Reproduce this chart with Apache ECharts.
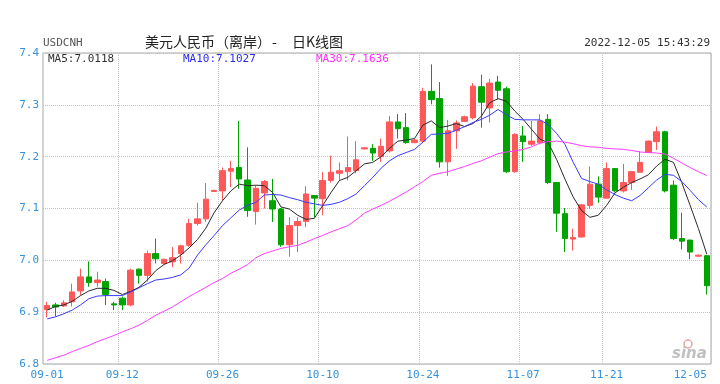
<!DOCTYPE html>
<html><head><meta charset="utf-8">
<script src="https://cdn.jsdelivr.net/npm/echarts@6/dist/echarts.min.js"></script>
<style>html,body{margin:0;padding:0;background:#fff}#c{width:720px;height:384px}</style>
</head><body><div id="c"></div>
<script>
const dates = ['09-01','09-02','09-03','09-05','09-06','09-07','09-08','09-09','09-10',
'09-12','09-13','09-14','09-15','09-16','09-17','09-19','09-20','09-21','09-22','09-23','09-24',
'09-26','09-27','09-28','09-29','09-30','10-01','10-03','10-04','10-05','10-06','10-07','10-08',
'10-10','10-11','10-12','10-13','10-14','10-15','10-17','10-18','10-19','10-20','10-21','10-22',
'10-24','10-25','10-26','10-27','10-28','10-29','10-31','11-01','11-02','11-03','11-04','11-05',
'11-07','11-08','11-09','11-10','11-11','11-14','11-15','11-16','11-17','11-18',
'11-21','11-22','11-23','11-24','11-25','11-26','11-28','11-29','11-30','12-01','12-02','12-03','12-05'];
const tickDates = ['09-01','09-12','09-26','10-10','10-24','11-07','11-21','12-05'];
const yTicks = [6.8, 7.4, 0.1]; // min, max, step
const open  = [6.905,6.914,6.912,6.920,6.941,6.968,6.957,6.959,6.916,6.927,6.914,6.983,6.971,7.013,6.994,6.997,7.013,7.029,7.071,7.080,
7.133,7.134,7.172,7.179,7.155,7.094,7.130,7.115,7.099,7.030,7.067,7.075,7.125,7.119,7.154,7.168,7.171,7.173,7.215,7.216,
7.200,7.211,7.267,7.256,7.227,7.230,7.326,7.312,7.190,7.250,7.268,7.275,7.335,7.294,7.344,7.331,7.171,7.240,7.224,7.227,
7.272,7.150,7.090,7.041,7.045,7.106,7.147,7.120,7.177,7.134,7.150,7.170,7.208,7.229,7.248,7.145,7.042,7.039,7.008,7.009];
const close = [6.913,6.910,6.918,6.939,6.968,6.957,6.962,6.934,6.914,6.914,6.981,6.971,7.013,7.003,7.002,7.005,7.028,7.071,7.080,7.118,
7.135,7.173,7.177,7.157,7.096,7.139,7.152,7.099,7.030,7.067,7.075,7.128,7.120,7.154,7.170,7.173,7.179,7.194,7.217,7.207,
7.220,7.267,7.254,7.227,7.232,7.326,7.310,7.190,7.250,7.265,7.277,7.336,7.305,7.342,7.328,7.171,7.243,7.229,7.230,7.269,
7.150,7.091,7.042,7.044,7.107,7.147,7.122,7.177,7.134,7.150,7.171,7.189,7.230,7.248,7.134,7.042,7.037,7.016,7.010,6.951];
const low   = [6.890,6.892,6.910,6.911,6.933,6.949,6.949,6.914,6.904,6.904,6.911,6.955,6.959,6.994,6.992,6.987,6.994,7.026,7.067,7.074,
7.132,7.115,7.141,7.138,7.084,7.069,7.100,7.074,7.026,7.007,7.016,7.064,7.083,7.087,7.150,7.154,7.154,7.168,7.214,7.192,
7.190,7.208,7.235,7.225,7.226,7.226,7.301,7.179,7.163,7.215,7.267,7.272,7.256,7.266,7.310,7.168,7.169,7.190,7.221,7.224,
7.147,7.055,7.016,7.019,7.044,7.099,7.111,7.119,7.131,7.131,7.136,7.169,7.207,7.213,7.131,7.039,7.021,7.002,7.007,6.934];
const high  = [6.920,6.918,6.923,6.955,6.984,6.998,6.978,6.965,6.920,6.930,6.984,6.984,7.019,7.042,7.003,7.026,7.030,7.080,7.111,7.149,
7.136,7.179,7.192,7.269,7.218,7.144,7.155,7.157,7.101,7.083,7.083,7.143,7.126,7.170,7.202,7.189,7.239,7.230,7.218,7.224,
7.235,7.278,7.282,7.284,7.234,7.333,7.378,7.344,7.271,7.270,7.279,7.342,7.358,7.350,7.356,7.335,7.245,7.259,7.269,7.282,
7.282,7.151,7.101,7.061,7.108,7.181,7.162,7.189,7.178,7.186,7.172,7.211,7.231,7.258,7.250,7.154,7.092,7.040,7.011,7.010];
const ma5  = [6.904,6.911,6.914,6.921,6.932,6.941,6.946,6.946,6.942,6.934,6.940,6.948,6.962,6.980,6.992,6.999,7.010,7.024,7.040,7.062,
7.092,7.115,7.134,7.147,7.144,7.145,7.144,7.131,7.103,7.099,7.087,7.079,7.081,7.106,7.131,7.154,7.160,7.173,7.186,7.189,
7.200,7.216,7.230,7.232,7.235,7.261,7.269,7.256,7.259,7.264,7.258,7.264,7.278,7.304,7.312,7.307,7.288,7.272,7.253,7.234,
7.227,7.195,7.157,7.122,7.096,7.083,7.087,7.106,7.130,7.141,7.150,7.157,7.165,7.182,7.195,7.189,7.150,7.106,7.061,7.0118];
const ma10 = [6.887,6.891,6.897,6.904,6.914,6.926,6.931,6.932,6.932,6.932,6.939,6.947,6.955,6.962,6.964,6.967,6.972,6.985,7.010,7.030,
7.048,7.067,7.082,7.097,7.106,7.112,7.126,7.127,7.126,7.121,7.117,7.112,7.109,7.106,7.108,7.112,7.119,7.128,7.144,7.160,
7.178,7.192,7.202,7.208,7.214,7.228,7.243,7.244,7.245,7.251,7.258,7.266,7.272,7.280,7.291,7.281,7.272,7.271,7.271,7.271,
7.262,7.245,7.224,7.189,7.158,7.152,7.147,7.136,7.127,7.120,7.115,7.125,7.140,7.155,7.166,7.164,7.152,7.135,7.117,7.1027];
const ma30 = [6.807,6.812,6.817,6.824,6.830,6.836,6.843,6.849,6.855,6.862,6.868,6.875,6.884,6.894,6.902,6.910,6.920,6.930,6.939,6.948,
6.957,6.965,6.975,6.983,6.992,7.005,7.013,7.018,7.023,7.026,7.029,7.035,7.042,7.048,7.055,7.061,7.067,7.078,7.091,7.099,
7.106,7.114,7.123,7.132,7.142,7.152,7.164,7.168,7.171,7.176,7.181,7.187,7.192,7.199,7.206,7.209,7.211,7.214,7.219,7.226,
7.229,7.230,7.228,7.225,7.221,7.219,7.218,7.216,7.215,7.214,7.212,7.209,7.208,7.207,7.205,7.197,7.188,7.179,7.171,7.1636];
const symbol = 'USDCNH';
const titleParts = ['美元人民币（离岸）', '-', '日K线图'];
const stamp = '2022-12-05 15:43:29';

const mono = '"DejaVu Sans Mono", "Liberation Mono", monospace';
const cjk = '14px "Noto Sans CJK SC", sans-serif';
const tickIdx = tickDates.map(d => dates.indexOf(d));
const innerTicks = tickIdx.filter(i => i > 0 && i < dates.length - 1);
const kdata = dates.map((d, i) => [open[i], close[i], low[i], high[i]]);
const last = a => a[a.length - 1].toFixed(4);

const chart = echarts.init(document.getElementById('c'), null, {renderer: 'canvas'});
chart.setOption({
  animation: false,
  backgroundColor: '#fff',
  grid: {left: 43, right: 9, top: 53, bottom: 20, show: true, borderColor: '#a8a8a8', borderWidth: 1},
  xAxis: {
    type: 'category', data: dates, boundaryGap: true,
    axisLine: {show: false}, axisTick: {show: false},
    axisLabel: {interval: i => tickIdx.includes(i), color: '#3592dc', fontFamily: mono, fontSize: 11, margin: 6, alignMaxLabel: 'right', hideOverlap: false},
    splitLine: {show: true, interval: i => innerTicks.includes(i), lineStyle: {color: '#c4c4c4', type: 'dotted', width: 1}}
  },
  yAxis: {
    type: 'value', min: yTicks[0], max: yTicks[1], interval: yTicks[2], scale: true,
    axisLine: {show: false}, axisTick: {show: false},
    axisLabel: {formatter: v => v.toFixed(1), color: '#3592dc', fontFamily: mono, fontSize: 11, margin: 4},
    splitLine: {lineStyle: {color: '#c4c4c4', type: 'dotted', width: 1}}
  },
  series: [
    {type: 'candlestick', data: kdata, barWidth: 6,
     itemStyle: {color: '#ff5858', color0: '#00a300', borderColor: '#ff5858', borderColor0: '#00a300', borderWidth: 1}},
    {type: 'line', data: ma5, symbol: 'none', z: 5, lineStyle: {color: '#2a2a2a', width: 1}},
    {type: 'line', data: ma10, symbol: 'none', z: 5, lineStyle: {color: '#3a3aff', width: 1}},
    {type: 'line', data: ma30, symbol: 'none', z: 5, lineStyle: {color: '#ff3cff', width: 1}}
  ],
  graphic: [
    {type: 'text', left: 43, top: 38, style: {text: symbol, fill: '#555', font: '11px ' + mono}},
    {type: 'text', left: 145, top: 35, style: {text: titleParts[0], fill: '#222', font: cjk}},
    {type: 'text', left: 272, top: 35, style: {text: titleParts[1], fill: '#222', font: cjk}},
    {type: 'text', left: 292, top: 35, style: {text: titleParts[2], fill: '#222', font: cjk}},
    {type: 'text', right: 10, top: 38, style: {text: stamp, fill: '#333', font: '11px ' + mono}},
    {type: 'text', left: 48, top: 54, style: {text: 'MA5:' + last(ma5), fill: '#333', font: '11px ' + mono}},
    {type: 'text', left: 183, top: 54, style: {text: 'MA10:' + last(ma10), fill: '#2b2bf0', font: '11px ' + mono}},
    {type: 'text', left: 316, top: 54, style: {text: 'MA30:' + last(ma30), fill: '#ff2cff', font: '11px ' + mono}},
    {type: 'circle', shape: {cx: 688, cy: 344, r: 4}, style: {fill: 'none', stroke: '#f0a0a0', lineWidth: 1.5}},
    {type: 'text', left: 672, top: 347, style: {text: 'sina', fill: '#c0c0c0', font: 'italic bold 15px "DejaVu Sans", sans-serif'}}
  ]
});
</script></body></html>
